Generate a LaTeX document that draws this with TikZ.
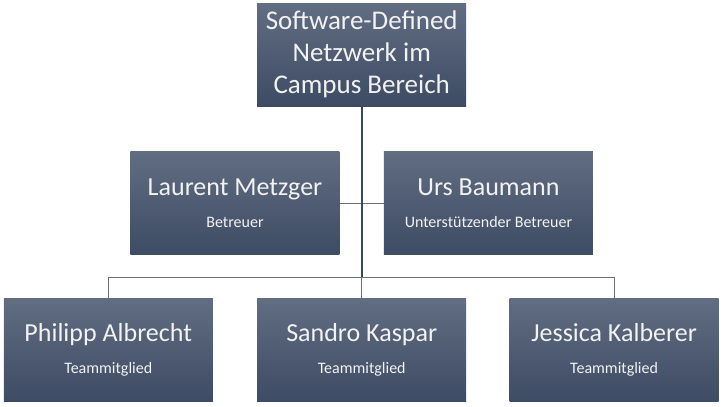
\documentclass[tikz,border=0pt]{standalone}
\usepackage{fontspec}
\setmainfont{Carlito}
\usepackage{tikz}
\usetikzlibrary{positioning}
\definecolor{BoxTop}{RGB}{97,109,129}
\definecolor{BoxBottom}{RGB}{61,75,100}
\definecolor{TrunkBlue}{RGB}{58,72,96}
\definecolor{LineGray}{RGB}{110,110,110}
\tikzset{
  orgbox/.style={rectangle,top color=BoxTop,bottom color=BoxBottom,
    draw=none,text=white!95!black,align=center,inner sep=0pt,
    minimum width=209pt,minimum height=103pt},
  headbox/.style={orgbox,font=\fontsize{27}{32}\selectfont},
  personbox/.style={orgbox,font=\fontsize{16}{32}\selectfont},
  trunk/.style={draw=TrunkBlue,line width=2pt},
  branch/.style={draw=LineGray,line width=0.9pt}
}
\newcommand{\person}[2]{{\fontsize{26}{30}\selectfont #1}\\#2}

\begin{document}
\begin{tikzpicture}
  \node[headbox] (head) {Software-Defined\\Netzwerk im\\Campus Bereich};
  \useasboundingbox ([shift={(-257pt,3pt)}]head.north west) rectangle +(724pt,-407pt);
  % betreuer
  \node[personbox,below left=45pt and 22pt of head.south] (laurent) {\person{Laurent Metzger}{Betreuer}};
  \node[personbox,below right=45pt and 22pt of head.south] (urs) {\person{Urs Baumann}{Unterstützender Betreuer}};
  % team
  \node[personbox,below=192pt of head] (sandro) {\person{Sandro Kaspar}{Teammitglied}};
  \node[personbox,left=44pt of sandro] (philipp) {\person{Philipp Albrecht}{Teammitglied}};
  \node[personbox,right=43pt of sandro] (jessica) {\person{Jessica Kalberer}{Teammitglied}};
  \coordinate[below=171pt of head.south] (hub);
  \draw[branch] (laurent) -- (urs);
  \draw[branch] (philipp.north) |- (hub) -| (jessica.north);
  \draw[branch] (hub) -- (sandro);
  \draw[trunk] (head) -- (hub);
\end{tikzpicture}
\end{document}
